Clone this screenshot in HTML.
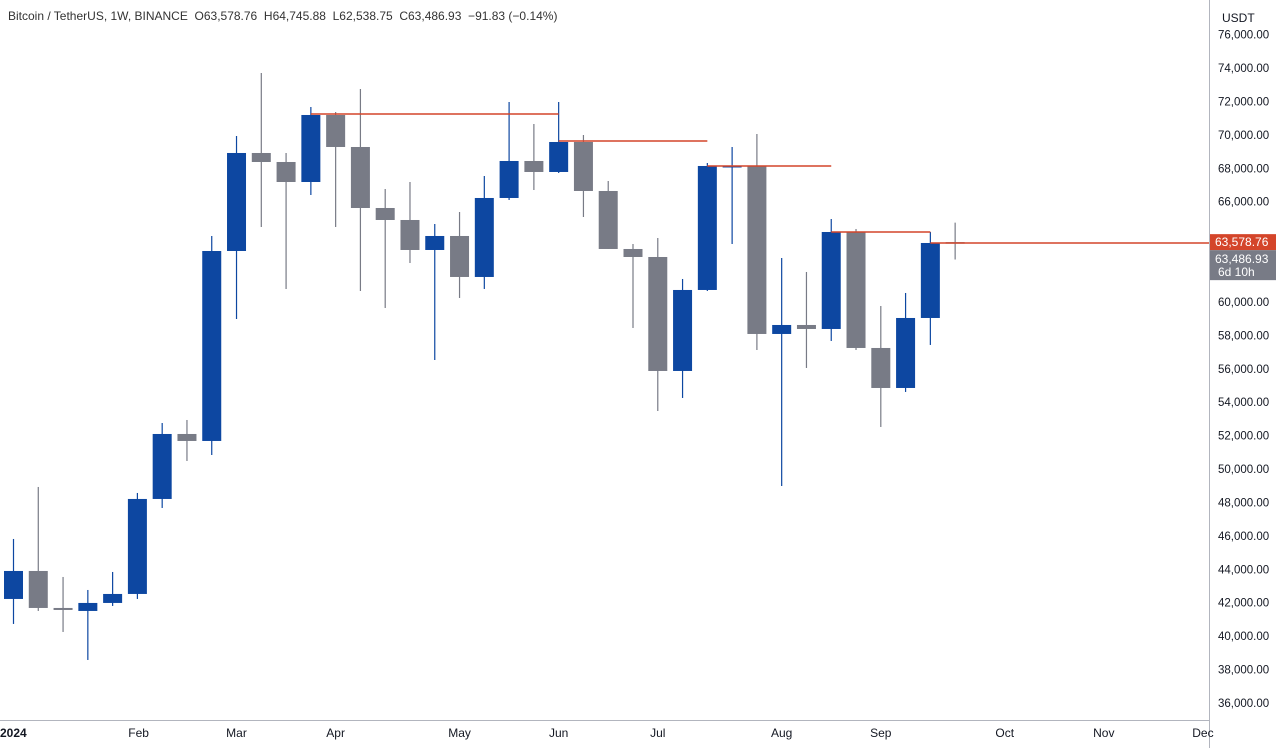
<!DOCTYPE html>
<html><head><meta charset="utf-8">
<style>
html,body{margin:0;padding:0;background:#fff;width:1280px;height:748px;overflow:hidden;font-family:"Liberation Sans",sans-serif;}
#chart{position:absolute;left:0;top:0;}
</style></head>
<body>
<svg id="chart" width="1280" height="748" xmlns="http://www.w3.org/2000/svg">
  <rect x="0" y="0" width="1280" height="748" fill="#ffffff"/>
  <g id="plot"></g>
  <line x1="1209.5" y1="0" x2="1209.5" y2="748" stroke="#b2b5be" stroke-width="1"/>
  <line x1="0" y1="720.5" x2="1209" y2="720.5" stroke="#b2b5be" stroke-width="1"/>
  <g id="yaxis"></g>
  <g id="xaxis"></g>
  <text x="8" y="20" font-size="12" fill="#333">Bitcoin / TetherUS, 1W, BINANCE&#160; O63,578.76&#160; H64,745.88&#160; L62,538.75&#160; C63,486.93&#160; −91.83 (−0.14%)</text>
  <rect x="1212" y="5" width="64" height="24" rx="3" fill="#fff"/>
  <text x="1222" y="22" font-size="12" fill="#131722">USDT</text>
</svg>
<script>
const opens=[42225,43900,41686,41507,41986,42524,48209,52098,51680,63049,68914,68375,67178,71188,69273,65622,64904,63109,63947,61494,66221,68435,67777,69572,66640,63169,62690,55869,60716,68076,68136,58083,58621,58382,64186,57245,54851,59040,63578.76];
const highs=[45815,48927,43541,42763,43840,48568,52756,52936,63947,69931,73701,68914,71666,71367,72743,66759,67178,64665,65383,67537,71965,70649,71965,69991,67238,63468,63827,61374,68315,69273,70051,62630,61793,64964,64366,59758,60536,64186,64745.88];
const lows=[40729,41507,40250,38574,41806,42225,47670,50483,50842,58980,64485,60776,66400,64485,60656,59638,62331,56527,60237,60776,66101,66699,67717,65084,63169,58442,53475,54253,60656,63468,57125,48987,56048,57664,57125,52517,54612,57425,62538.75];
const closes=[43900,41686,41566,41986,42524,48209,52098,51680,63049,68914,68375,67178,71188,69273,65622,64904,63109,63947,61494,66221,68435,67777,69572,66640,63169,62690,55869,60716,68136,68136,58083,58621,58382,64186,57245,54851,59040,63528,63486.93];
const levelPrices=[71247,69632,68136,64186,63528];
const levelStart=[12,22,28,33,37];
const levelEnd=[22,28,33,37,-1];
const yTicks=[76000,74000,72000,70000,68000,66000,62000,60000,58000,56000,54000,52000,50000,48000,46000,44000,42000,40000,38000,36000];
const monthLabels=["2024","Feb","Mar","Apr","May","Jun","Jul","Aug","Sep","Oct","Nov","Dec"];
const monthIdx=[0,5.05,9,13,18,22,26,31,35,40,44,48];

const NS="http://www.w3.org/2000/svg";
function yFor(p){return 68+(74000-p)/2000*33.42;}
function xFor(i){return 13.5+i*24.78;}
function mk(tag,attrs,parent){const e=document.createElementNS(NS,tag);for(const k in attrs)e.setAttribute(k,attrs[k]);parent.appendChild(e);return e;}
const plot=document.getElementById('plot');
const UP="#0d47a1",DOWN="#787b86",RED="#d4452a";
for(let i=0;i<opens.length;i++){
  const up=closes[i]>=opens[i];const c=up?UP:DOWN;const x=xFor(i);
  const g=mk('g',{},plot);
  
  
  const w=mk('line',{x1:x,x2:x,y1:yFor(highs[i]),y2:yFor(lows[i]),stroke:c,'stroke-width':1.2},g);
  
  
  const t=yFor(Math.max(opens[i],closes[i])),b=yFor(Math.min(opens[i],closes[i]));
  const r=mk('rect',{x:x-9.5,y:t,width:19,height:Math.max(1.5,b-t),fill:c},g);
  
  
}
for(let k=0;k<levelPrices.length;k++){
  const y=yFor(levelPrices[k]);const x1=xFor(levelStart[k]);const x2=levelEnd[k]<0?1209:xFor(levelEnd[k]);
  const l=mk('line',{x1:x1,x2:x2,y1:y,y2:y,stroke:RED,'stroke-width':1.5},plot);
  
  
}
const ya=document.getElementById('yaxis');
for(const p of yTicks){
  const t=mk('text',{x:1218,y:yFor(p)+4,'font-size':11.5,fill:'#131722'},ya);
  t.textContent=p.toLocaleString('en-US')+'.00';
  
  
}
const lastOpen=opens[opens.length-1],lastClose=closes[closes.length-1];
const ro=mk('rect',{x:1210,y:yFor(lastOpen)-8,width:66,height:16,fill:RED},ya);


const rt=mk('text',{x:1215,y:yFor(lastOpen)+4,'font-size':12,fill:'#fff'},ya);
rt.textContent=lastOpen.toLocaleString('en-US',{minimumFractionDigits:2});


const cb=mk('rect',{x:1210,y:yFor(lastOpen)+8,width:66,height:30,fill:'#787b86'},ya);


const ct=mk('text',{x:1215,y:yFor(lastOpen)+21,'font-size':12,fill:'#fff'},ya);
ct.textContent=lastClose.toLocaleString('en-US',{minimumFractionDigits:2});


const cd=mk('text',{x:1218,y:yFor(lastOpen)+34,'font-size':12,fill:'#fff'},ya);
cd.textContent='6d 10h';


const xa=document.getElementById('xaxis');
for(let k=0;k<monthLabels.length;k++){
  const x=k===0?0:xFor(monthIdx[k]);
  const t=mk('text',{x:x,y:737,'font-size':12,fill:'#131722','text-anchor':k===0?'start':'middle','font-weight':k===0?'bold':'normal'},xa);
  t.textContent=monthLabels[k];
  
  
}
</script>
</body></html>
